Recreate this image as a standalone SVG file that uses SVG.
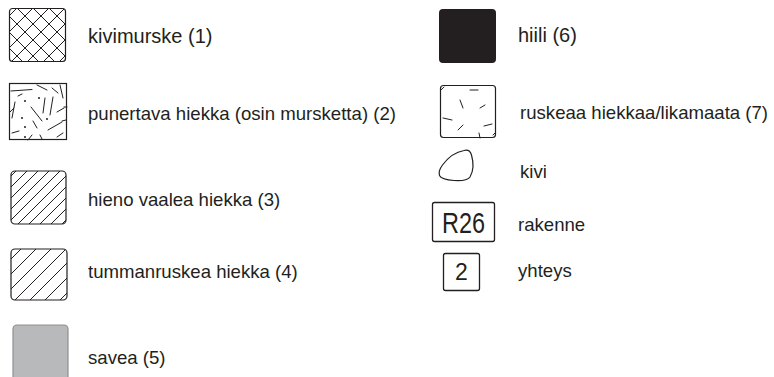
<svg xmlns="http://www.w3.org/2000/svg" width="774" height="377" viewBox="0 0 774 377">
<style>
.lbl{font-family:"Liberation Sans",Arial,sans-serif;font-size:18.6px;fill:#231f20}
.big{font-size:20px}
.box{fill:#fff;stroke:#231f20;stroke-width:1.2}
.mk{stroke:#231f20;stroke-width:1;fill:none;stroke-linecap:round}
</style>
<defs>
<pattern id="cross" patternUnits="userSpaceOnUse" x="9" y="0" width="16" height="16">
<path d="M-2,-2L18,18M18,-2L-2,18" stroke="#231f20" stroke-width="1"/>
</pattern>
<pattern id="fine" patternUnits="userSpaceOnUse" x="0" y="0" width="11" height="11">
<path d="M-1,12L12,-1M-2,2L2,-2M9,13L13,9" stroke="#231f20" stroke-width="1"/>
</pattern>
<pattern id="coarse" patternUnits="userSpaceOnUse" x="0" y="0" width="15" height="15">
<path d="M-1,16L16,-1M-2,2L2,-2M13,17L17,13" stroke="#231f20" stroke-width="1"/>
</pattern>
</defs>

<g id="n1">
<rect x="9.5" y="8.5" width="56" height="53" rx="3" fill="url(#cross)" stroke="#231f20" stroke-width="1.2"/>
<text class="lbl big" x="88" y="43">kivimurske (1)</text>
</g>

<g id="n2">
<rect x="9.5" y="83.5" width="57" height="56" fill="#fff" stroke="#231f20" stroke-width="1.2"/>
<path class="mk" d="M11,91L32,89.5M37,85L47,90M52,88L58,93M60,85L63,98M64,107L67,107M12,118L15,102M45,98L43,113M53,97L50,115M31,107L42,121M33,121L37,128M12,133L19,131M48,130L62,122M57,112L64,108M28,140L32,135M40,135L42,139M57,137L63,133M62,121L66,120M18,96L22,94M14,108L10,112"/>
<g fill="#231f20"><circle cx="25" cy="101" r="1"/><circle cx="39" cy="98" r="1"/><circle cx="22" cy="118" r="1"/><circle cx="47" cy="119" r="1"/><circle cx="25" cy="127" r="1"/><circle cx="25" cy="137" r="1"/></g>
<text class="lbl" x="88" y="120">punertava hiekka (osin mursketta) (2)</text>
</g>

<g id="n3">
<rect x="11" y="171" width="55" height="53" rx="4" fill="url(#fine)" stroke="#231f20" stroke-width="1.2"/>
<text class="lbl" x="88" y="206">hieno vaalea hiekka (3)</text>
</g>

<g id="n4">
<rect x="11" y="249" width="56" height="51" rx="4" fill="url(#coarse)" stroke="#231f20" stroke-width="1.2"/>
<text class="lbl" x="88" y="278">tummanruskea hiekka (4)</text>
</g>

<g id="n5">
<rect x="13" y="325" width="55" height="70" rx="4" fill="#b8b9bb" stroke="#8f9092" stroke-width="1.2"/>
<text class="lbl" x="88" y="364">savea (5)</text>
</g>

<g id="n6">
<rect x="439" y="9" width="57" height="54" rx="4" fill="#231f20"/>
<text class="lbl big" x="518" y="42">hiili (6)</text>
</g>

<g id="n7">
<rect x="440.5" y="85.5" width="55" height="52" rx="3" fill="#fff" stroke="#231f20" stroke-width="1.2"/>
<path class="mk" d="M470,90L478,90M441,90L444,87M460,100L463,108M480,108L485,105M443,118L452,120M458,130L463,125M484,126L492,124M479,133L480,138M493,135L495,133"/>
<text class="lbl" x="520" y="119">ruskeaa hiekkaa/likamaata (7)</text>
</g>

<g id="kivi">
<path d="M464,150.5C468,149.5 470.5,151.5 471.5,155C473.5,162 473.5,171 470,177C467,181 461,181 454,180.5C447,180 441,179 439.5,175.5C438.5,172 439.5,169 442.5,165C447,159 455,152 464,150.5Z" fill="#fff" stroke="#231f20" stroke-width="1.2"/>
<text class="lbl" x="520" y="178">kivi</text>
</g>

<g id="rakenne">
<rect x="432.5" y="202.5" width="62" height="39" rx="2" fill="#fff" stroke="#231f20" stroke-width="1.3"/>
<text x="463.5" y="233" text-anchor="middle" font-family="'Liberation Sans',Arial,sans-serif" font-size="30" fill="#231f20" textLength="43" lengthAdjust="spacingAndGlyphs">R26</text>
<text class="lbl" x="518" y="231">rakenne</text>
</g>

<g id="yhteys">
<rect x="443.5" y="253.5" width="36" height="37" rx="2" fill="#fff" stroke="#231f20" stroke-width="1.3"/>
<text x="461.5" y="280" text-anchor="middle" font-family="'Liberation Sans',Arial,sans-serif" font-size="23" fill="#231f20">2</text>
<text class="lbl" x="518" y="277">yhteys</text>
</g>

<g id="connectors"/>
</svg>
